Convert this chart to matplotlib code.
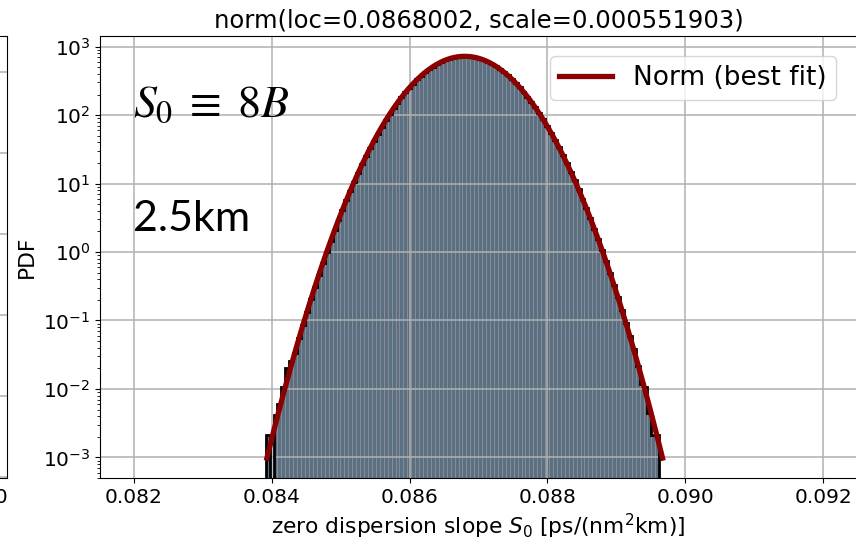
import numpy as np
import matplotlib
matplotlib.use("Agg")
import matplotlib.pyplot as plt

# fitted normal (from title)
LOC = 0.0868002
SCALE = 0.000551903

# histogram range and bin densities (100 bins)
X_MIN, X_MAX = 0.083913, 0.089622
density = [
    2.1e-3, 0.0, 4.2e-3, 6.0e-3, 1.05e-2, 2.0e-2, 2.6e-2, 3.4e-2, 5.6e-2, 8.5e-2,
    0.134, 0.205, 0.310, 0.462, 0.685, 1.00, 1.445, 2.08, 2.94, 4.13,
    5.71, 7.83, 10.7, 14.3, 19.0, 25.0, 32.6, 41.9, 53.2, 67.1,
    83.6, 103.2, 125.9, 152.0, 181.1, 214.1, 250.4, 289.4, 331.3, 374.8,
    419.5, 465.0, 509.6, 552.8, 593.1, 629.8, 661.3, 687.0, 706.3, 718.3,
    722.8, 719.5, 708.6, 690.1, 665.4, 634.4, 599.4, 559.4, 516.8, 472.1,
    427.0, 382.1, 338.0, 296.1, 256.3, 219.8, 186.2, 156.3, 129.8, 106.5,
    86.6, 69.5, 55.3, 43.6, 33.9, 26.1, 19.9, 15.0, 11.2, 8.25,
    6.03, 4.35, 3.11, 2.19, 1.54, 1.066, 0.728, 0.494, 0.330, 0.219,
    0.144, 0.0933, 0.060, 0.038, 0.022, 0.012, 0.0105, 0.0045, 0.0021, 0.0021,
]

XTICKS = [0.082, 0.084, 0.086, 0.088, 0.090, 0.092]
XLIM = (0.08151, 0.09249)
YLIM = (5.0e-4, 1.43e3)

# ticks of the neighbouring (cropped) panel
LEFT_XTICKS = [0.080, 0.082, 0.084, 0.086, 0.088, 0.090]

TITLE = f"norm(loc={LOC:g}, scale={SCALE:g})"

fig = plt.figure(figsize=(8.56, 5.40), dpi=100)

# neighbouring panel, mostly cropped away on the left
axl = fig.add_axes([7 / 856 - 757 / 856, 0.1148, 757 / 856, 0.8185])
axl.set_xlim(0.07951, 0.09040)
axl.set_xticks(LEFT_XTICKS)
axl.set_xticklabels([f"{t:.3f}" for t in LEFT_XTICKS], fontsize=14.5)
axl.set_ylim(-0.01, 5.45)
axl.set_yticks([0, 1, 2, 3, 4, 5])
axl.set_yticklabels([])
axl.grid(True, color="#b0b0b0", lw=1.1)

ax = fig.add_axes([100 / 856, 0.1148, 757 / 856, 0.8185])

density = np.array(density)
edges = np.linspace(X_MIN, X_MAX, len(density) + 1)
centers = 0.5 * (edges[:-1] + edges[1:])
width = edges[1] - edges[0]

ax.bar(centers, density, width=width, color="#587082",
       edgecolor="#8e8c96", linewidth=0.6, zorder=1)
ax.stairs(density, edges, baseline=1e-6, color="black", lw=2.0, zorder=2)

x = np.linspace(LOC - 5.199 * SCALE, LOC + 5.199 * SCALE, 200)
pdf = np.exp(-0.5 * ((x - LOC) / SCALE) ** 2) / (np.sqrt(2 * np.pi) * SCALE)
ax.plot(x, pdf, color="#8b0000", lw=3.8, zorder=3, label="Norm (best fit)")

ax.set_yscale("log")
ax.set_xlim(*XLIM)
ax.set_ylim(*YLIM)
ax.set_xticks(XTICKS)
ax.set_xticklabels([f"{t:.3f}" for t in XTICKS])
ax.tick_params(labelsize=14.5)
ax.set_axisbelow("line")
ax.grid(True, which="major", color="#b0b0b0", lw=1.1)

ax.set_title(TITLE, fontsize=17.5, pad=6)
ax.set_xlabel(r"zero dispersion slope $S_0$ [ps/(nm$^2$km)]", fontsize=15.7)
ax.set_ylabel("PDF", fontsize=15.7, labelpad=4)

ax.text(0.044, 0.845, r"$S_0\;\equiv\;8B$", transform=ax.transAxes,
        fontsize=33, math_fontfamily="stix", va="center")
ax.text(0.044, 0.585, "2.5km", transform=ax.transAxes,
        fontsize=31, family="Lato", va="center")

ax.legend(loc="upper right", fontsize=19, bbox_to_anchor=(0.99, 0.985),
          handlelength=2.0, borderpad=0.35)

fig.savefig("out.png", dpi=100)
